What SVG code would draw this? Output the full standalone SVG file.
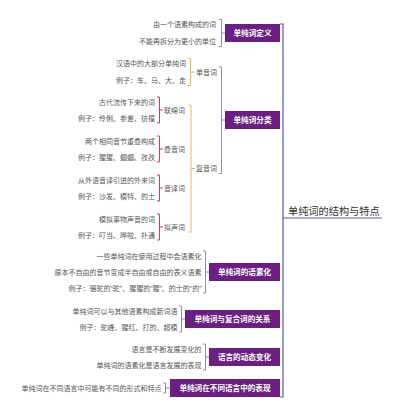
<svg xmlns="http://www.w3.org/2000/svg" width="400" height="417" viewBox="0 0 400 417">
<style>
.t{font-family:"Liberation Sans","Noto Sans CJK SC",sans-serif;font-size:7px;fill:#555}
.e{text-anchor:end}
.box{fill:#6b1f82}
.bt{font-family:"Liberation Sans","Noto Sans CJK SC",sans-serif;font-size:7.6px;font-weight:bold;fill:#fff;text-anchor:middle}
.root{font-family:"Liberation Sans","Noto Sans CJK SC",sans-serif;font-size:10.2px;fill:#333}
.l0{stroke:#5558ad;stroke-width:1.2;fill:none}
.l1{stroke:#9c86b8;stroke-width:1;fill:none}
.l2{stroke:#f2b35c;stroke-width:1;fill:none}
.l3{stroke:#d43b5c;stroke-width:1;fill:none}
</style>
<rect width="400" height="417" fill="#fff"/>
<g id="connectors">
<path class="l0" d="M280,24H283V397H280M283,218H286H382"/>
<path class="l1" d="M219,19.5H221.5V46.5H219M221.5,33H225"/>
<path class="l1" d="M219,67H221.5V173.5H219M221.5,120H225"/>
<path class="l2" d="M188,58.5H190.5V85.5H188M190.5,72H195"/>
<path class="l2" d="M188.5,105H191V232H188.5M191,168.5H195"/>
<path class="l3" d="M157,97H159.5V123H157M159.5,110H163"/>
<path class="l3" d="M157,136H159.5V162H157M159.5,149H163"/>
<path class="l3" d="M157,175H159.5V201H157M159.5,188H163"/>
<path class="l3" d="M157,214H159.5V240H157M159.5,227H163"/>
<path class="l1" d="M203,251H205.5V293H203M205.5,272H209"/>
<path class="l1" d="M179,306H181.5V332H179M181.5,319H185"/>
<path class="l1" d="M203,344H205.5V370H203M205.5,357H209"/>
<path class="l1" d="M163,383H165.5V393H163M165.5,388H170"/>
</g>
<g id="root"><text class="root" x="288" y="215">单纯词的结构与特点</text></g>
<g id="n1">
<rect class="box" x="225" y="24" width="55" height="18"/>
<text class="bt" x="252.5" y="35.8">单纯词定义</text>
<text class="t e" x="216" y="27">由一个语素构成的词</text>
<text class="t e" x="216" y="44">不能再拆分为更小的单位</text>
</g>
<g id="n2">
<rect class="box" x="225" y="111" width="55" height="18"/>
<text class="bt" x="252.5" y="122.8">单纯词分类</text>
</g>
<g id="n2a">
<text class="t" x="196" y="74.5">单音词</text>
<text class="t e" x="186" y="66">汉语中的大部分单纯词</text>
<text class="t e" x="186" y="83">例子：车、马、大、走</text>
</g>
<g id="n2b"><text class="t" x="196" y="171">复音词</text></g>
<g id="n2b1">
<text class="t" x="164" y="112.5">联绵词</text>
<text class="t e" x="155" y="104.5">古代流传下来的词</text>
<text class="t e" x="155" y="120.5">例子：伶俐、参差、彷徨</text>
</g>
<g id="n2b2">
<text class="t" x="164" y="151.5">叠音词</text>
<text class="t e" x="155" y="143.5">两个相同音节重叠构成</text>
<text class="t e" x="155" y="159.5">例子：猩猩、蝈蝈、孜孜</text>
</g>
<g id="n2b3">
<text class="t" x="164" y="190.5">音译词</text>
<text class="t e" x="155" y="182.5">从外语音译引进的外来词</text>
<text class="t e" x="155" y="198.5">例子：沙发、模特、的士</text>
</g>
<g id="n2b4">
<text class="t" x="164" y="229.5">拟声词</text>
<text class="t e" x="155" y="221.5">模拟事物声音的词</text>
<text class="t e" x="155" y="237.5">例子：叮当、哗啦、扑通</text>
</g>
<g id="n3">
<rect class="box" x="209" y="263" width="71" height="18"/>
<text class="bt" x="244.5" y="274.8">单纯词的语素化</text>
<text class="t e" x="201.5" y="258.5">一些单纯词在使用过程中会语素化</text>
<text class="t e" x="201.5" y="274.5">原本不自由的音节变成半自由或自由的表义语素</text>
<text class="t e" x="201.5" y="290.5">例子：骆驼的“驼”、猩猩的“猩”、的士的“的”</text>
</g>
<g id="n4">
<rect class="box" x="185" y="310" width="95" height="18"/>
<text class="bt" x="232.5" y="321.8">单纯词与复合词的关系</text>
<text class="t e" x="177.5" y="313.5">单纯词可以与其他语素构成新词语</text>
<text class="t e" x="177.5" y="329.5">例子：驼峰、猩红、打的、超模</text>
</g>
<g id="n5">
<rect class="box" x="209" y="348" width="71" height="18"/>
<text class="bt" x="244.5" y="359.8">语言的动态变化</text>
<text class="t e" x="201.5" y="351.5">语言是不断发展变化的</text>
<text class="t e" x="201.5" y="367.5">单纯词的语素化是语言发展的表现</text>
</g>
<g id="n6">
<rect class="box" x="170" y="379" width="110" height="18"/>
<text class="bt" x="225" y="390.8">单纯词在不同语言中的表现</text>
<text class="t e" x="161.5" y="390.5">单纯词在不同语言中可能有不同的形式和特点</text>
</g>
</svg>
